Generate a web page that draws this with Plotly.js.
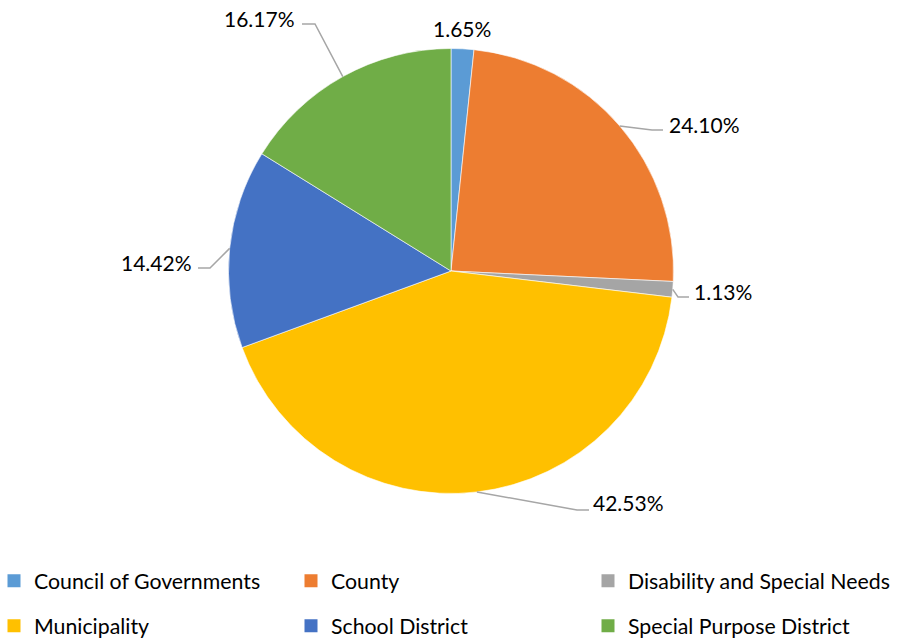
<!DOCTYPE html>
<html>
<head>
<meta charset="utf-8">
<script src="https://cdn.plot.ly/plotly-3.0.1.min.js"></script>
<style>html,body{margin:0;padding:0;background:#fff;}#chart{width:904px;height:641px;}</style>
</head>
<body>
<div id="chart"></div>
<script>
// ---- data ----
var categories = ["Council of Governments", "County", "Disability and Special Needs", "Municipality", "School District", "Special Purpose District"];
var shares = [1.65, 24.10, 1.13, 42.53, 14.42, 16.17];
var colors = ["#5B9BD5", "#ED7D31", "#A5A5A5", "#FFC000", "#4472C4", "#70AD47"];
var legendRow = ["legend", "legend", "legend", "legend2", "legend2", "legend2"];

// ---- layout constants (pixels) ----
var W = 904, H = 641;
var CX = 451, CY = 271, R = 222.5;
var FONT = "Lato, 'Open Sans', sans-serif";
// label placement: text anchor + leader elbow/end (pixels), null = no leader
var labelPlace = [
  {tx: 462, ty: 28, anchor: "center", elbow: null, end: null},
  {tx: 667, ty: 124, anchor: "left", elbow: [652, 130], end: [663, 130]},
  {tx: 692, ty: 291, anchor: "left", elbow: [678, 297], end: [689, 297]},
  {tx: 591, ty: 502, anchor: "left", elbow: [577, 510], end: [589, 510]},
  {tx: 194, ty: 262, anchor: "right", elbow: [210, 268], end: [198, 268]},
  {tx: 297, ty: 18, anchor: "right", elbow: [315, 24], end: [302, 24]}
];

function px(x) { return x / W; }
function py(y) { return 1 - y / H; }

var total = shares.reduce(function (a, b) { return a + b; }, 0);

var traces = [{
  type: "pie",
  labels: categories,
  values: shares,
  sort: false,
  direction: "clockwise",
  rotation: 0,
  textinfo: "none",
  hoverinfo: "label+percent",
  marker: {colors: colors, line: {color: "#ffffff", width: 0.6}},
  showlegend: false,
  domain: {x: [px(CX - R), px(CX + R)], y: [py(CY + R), py(CY - R)]}
}];

categories.forEach(function (c, i) {
  traces.push({
    type: "scatter", mode: "markers", x: [null], y: [null], name: c,
    marker: {symbol: "square", size: 13, color: colors[i]},
    legend: legendRow[i], showlegend: true, hoverinfo: "skip"
  });
});

var annotations = [];
var shapes = [];
var cum = 0;
shares.forEach(function (v, i) {
  var mid = (cum + v / 2) / total * 2 * Math.PI;
  cum += v;
  var ex = CX + R * Math.sin(mid), ey = CY - R * Math.cos(mid);
  var lp = labelPlace[i];
  annotations.push({
    xref: "paper", yref: "paper", x: px(lp.tx), y: py(lp.ty),
    xanchor: lp.anchor, yanchor: "middle", showarrow: false,
    text: v.toFixed(2) + "%",
    font: {family: FONT, size: 21, color: "#000000"}
  });
  if (lp.elbow) {
    shapes.push({
      type: "path", xref: "paper", yref: "paper",
      path: "M " + px(ex) + " " + py(ey) + " L " + px(lp.elbow[0]) + " " + py(lp.elbow[1]) +
            " L " + px(lp.end[0]) + " " + py(lp.end[1]),
      line: {color: "#A6A6A6", width: 1.5}
    });
  }
});

var legendCommon = {
  orientation: "h", xanchor: "left", yanchor: "middle",
  indentation: -6,
  entrywidth: 258, entrywidthmode: "pixels",
  font: {family: FONT, size: 21.3, color: "#000000"},
  bgcolor: "rgba(0,0,0,0)", itemclick: false, itemdoubleclick: false
};

var layout = {
  width: W, height: H,
  margin: {l: 0, r: 0, t: 0, b: 0, autoexpand: false},
  paper_bgcolor: "#ffffff", plot_bgcolor: "#ffffff",
  xaxis: {visible: false}, yaxis: {visible: false},
  annotations: annotations,
  shapes: shapes,
  legend: Object.assign({}, legendCommon, {x: 0, y: py(581)}),
  legend2: Object.assign({}, legendCommon, {x: 0, y: py(626)})
};

Plotly.newPlot("chart", traces, layout, {displayModeBar: false, staticPlot: true});
</script>
</body>
</html>
